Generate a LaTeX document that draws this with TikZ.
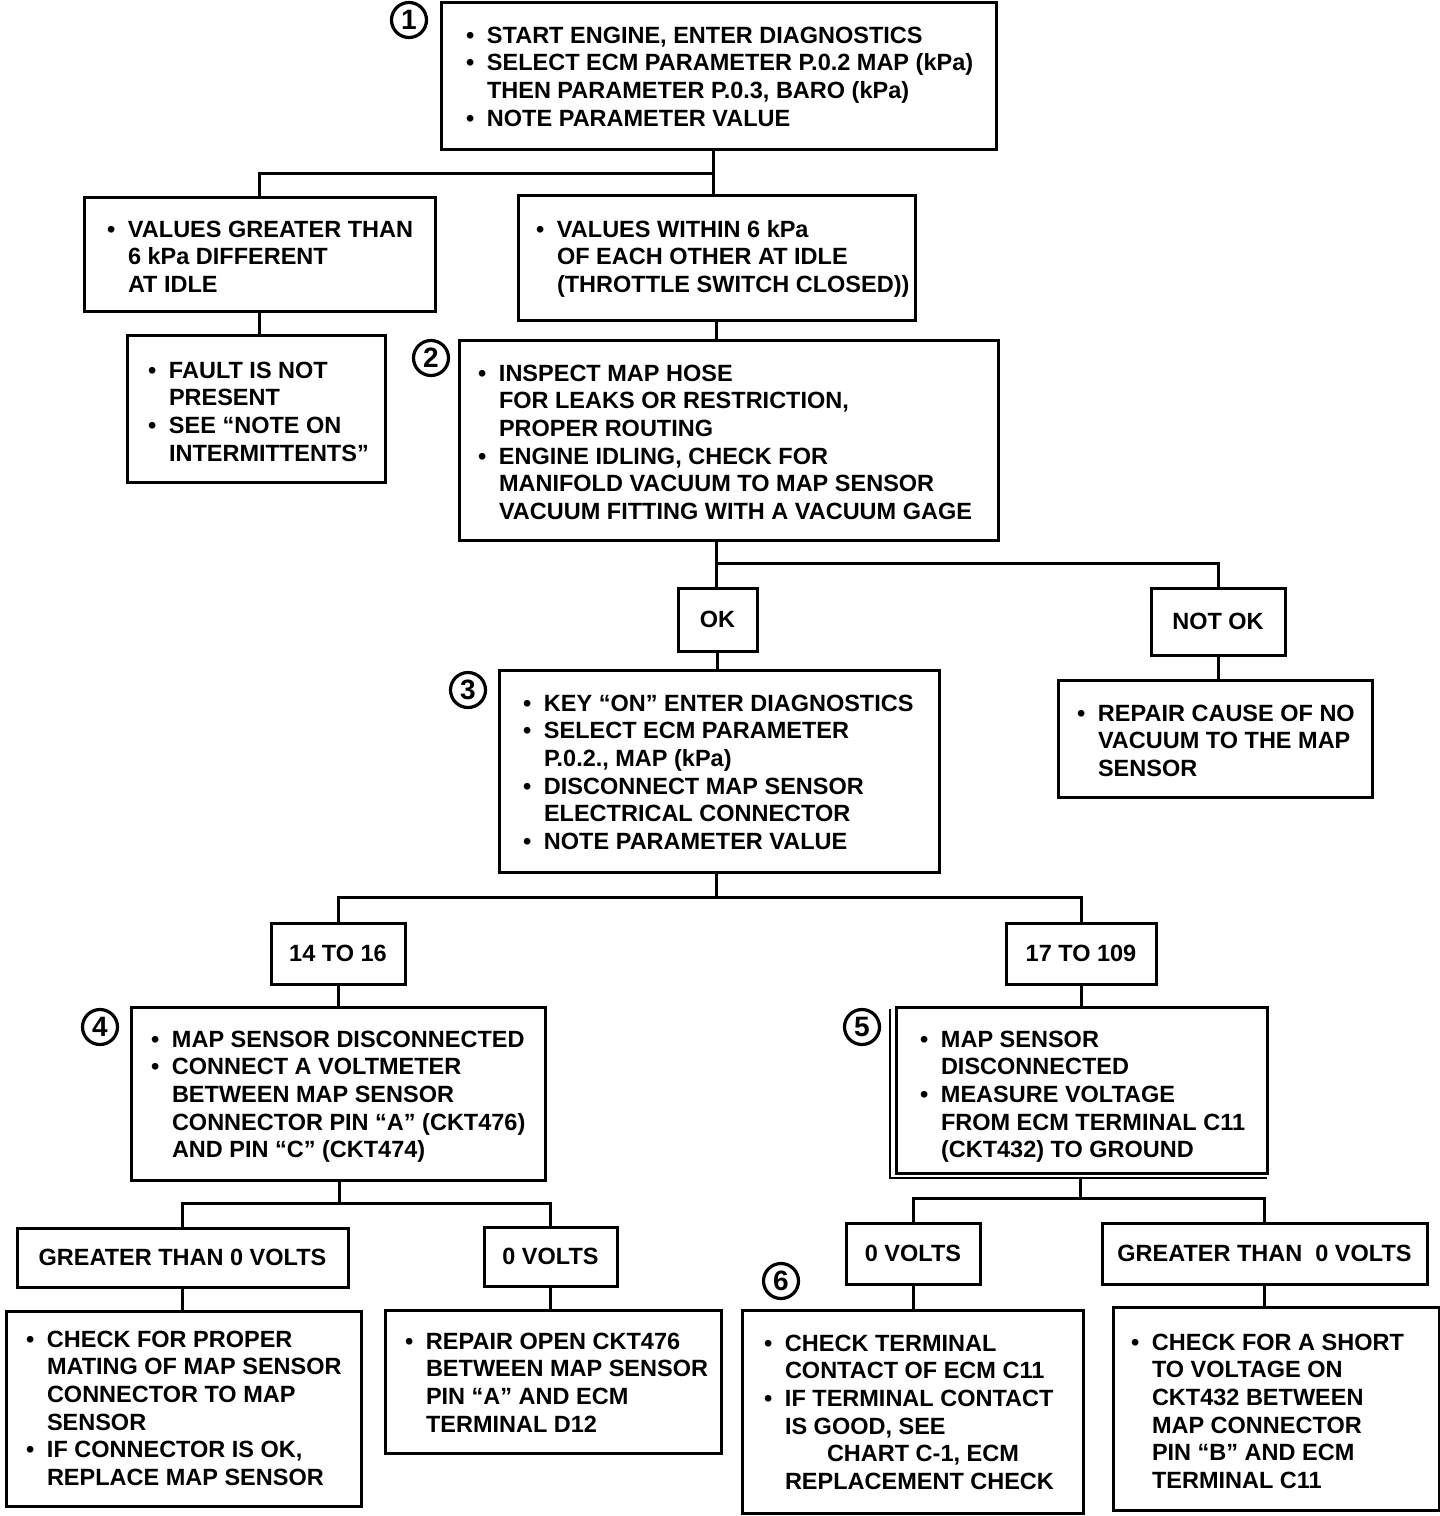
\documentclass[tikz,border=0pt]{standalone}
\usepackage{fontspec}
\setmainfont{Liberation Sans}
\newcommand\bul{\makebox[21pt][l]{•}}
\newcommand\ind{\hspace*{21pt}}
\newcommand\fl{\rule{0pt}{17.5pt}}
\tikzset{
  box/.style={draw, line width=3pt, inner sep=0pt, outer sep=0pt, anchor=north west,
    font=\bfseries\fontsize{23.5}{27.6}\selectfont},
  txt/.style={inner sep=0pt, outer sep=0pt, anchor=north west, align=left,
    font=\bfseries\fontsize{23.5}{27.6}\selectfont},
  num/.style={draw, circle, line width=3.2pt, minimum size=35pt, inner sep=0pt,
    font=\bfseries\fontsize{28}{28}\selectfont},
  conn/.style={line width=3pt, line cap=rect, line join=miter}
}
\begin{document}
\begin{tikzpicture}[x=1pt,y=-1pt]
\useasboundingbox (0,0) rectangle (1440,1516);

% ---------- boxes ----------
\node[box, minimum width=555pt, minimum height=147pt] (b1) at (441,2) {};
\node[box, minimum width=351pt, minimum height=114pt] (l1) at (84,197) {};
\node[box, minimum width=397pt, minimum height=125pt] (r1) at (518,195) {};
\node[box, minimum width=258pt, minimum height=147pt] (l2) at (127,335) {};
\node[box, minimum width=539pt, minimum height=200pt] (b2) at (459,340) {};
\node[box, minimum width=79pt, minimum height=63pt] (ok) at (678,588) {OK};
\node[box, minimum width=134pt, minimum height=67pt] (nok) at (1151,588) {NOT OK};
\node[box, minimum width=440pt, minimum height=202pt] (b3) at (499,670) {};
\node[box, minimum width=314pt, minimum height=117pt] (rep) at (1058,680) {};
\node[box, minimum width=134pt, minimum height=61pt] (v14) at (271,923) {14 TO 16};
\node[box, minimum width=150pt, minimum height=61pt] (v17) at (1006,923) {17 TO 109};
\node[box, minimum width=414pt, minimum height=173pt] (b4) at (131,1007) {};
\node[box, minimum width=371pt, minimum height=166pt] (b5) at (896,1007) {};
\node[box, minimum width=331pt, minimum height=59pt] (gtl) at (17,1228) {GREATER THAN 0 VOLTS};
\node[box, minimum width=133pt, minimum height=59pt] (zl) at (484,1227) {0 VOLTS};
\node[box, minimum width=134pt, minimum height=61pt] (zr) at (846,1223) {0 VOLTS};
\node[box, minimum width=325pt, minimum height=61pt] (gtr) at (1102,1223) {GREATER THAN\ \ 0 VOLTS};
\node[box, minimum width=355pt, minimum height=195pt] (chk) at (6,1311) {};
\node[box, minimum width=336pt, minimum height=143pt] (rop) at (385,1310) {};
\node[box, minimum width=341pt, minimum height=203pt] (b6) at (742,1310) {};
\node[box, minimum width=326pt, minimum height=203pt] (sh) at (1113,1307) {};

% shadow edge of box 5
\coordinate (s5a) at (890,1009);
\coordinate (s5b) at (890,1178);
\draw[line width=2.5pt] (s5a) -- (s5b) -- (b5.south east |- s5b);

% ---------- circled step numbers ----------
\node[num] (n1) at (409,20) {1};
\node[num] (n2) at (431,358) {2};
\node[num] (n3) at (468,690) {3};
\node[num] (n4) at (100,1027) {4};
\node[num] (n5) at (862,1027) {5};
\node[num] (n6) at (781,1281) {6};

% ---------- texts ----------
\node[txt] (t1) at (466,25.8) {\fl\bul START ENGINE, ENTER DIAGNOSTICS\\
 \bul SELECT ECM PARAMETER P.0.2 MAP (kPa)\\
 \ind THEN PARAMETER P.0.3, BARO (kPa)\\
 \bul NOTE PARAMETER VALUE};
\node[txt] (tl1) at (107,219.8) {\fl\bul VALUES GREATER THAN\\
 \ind 6 kPa DIFFERENT\\
 \ind AT IDLE};
\node[txt] (tr1) at (536,219.8) {\fl\bul VALUES WITHIN 6 kPa\\
 \ind OF EACH OTHER AT IDLE\\
 \ind (THROTTLE SWITCH CLOSED))};
\node[txt] (tl2) at (148,360.8) {\fl\bul FAULT IS NOT\\
 \ind PRESENT\\
 \bul SEE “NOTE ON\\
 \ind INTERMITTENTS”};
\node[txt] (t2) at (478,363.8) {\fl\bul INSPECT MAP HOSE\\
 \ind FOR LEAKS OR RESTRICTION,\\
 \ind PROPER ROUTING\\
 \bul ENGINE IDLING, CHECK FOR\\
 \ind MANIFOLD VACUUM TO MAP SENSOR\\
 \ind VACUUM FITTING WITH A VACUUM GAGE};
\node[txt] (t3) at (523,693.8) {\fl\bul KEY “ON” ENTER DIAGNOSTICS\\
 \bul SELECT ECM PARAMETER\\
 \ind P.0.2., MAP (kPa)\\
 \bul DISCONNECT MAP SENSOR\\
 \ind ELECTRICAL CONNECTOR\\
 \bul NOTE PARAMETER VALUE};
\node[txt] (trep) at (1077,703.8) {\fl\bul REPAIR CAUSE OF NO\\
 \ind VACUUM TO THE MAP\\
 \ind SENSOR};
\node[txt] (t4) at (151,1029.8) {\fl\bul MAP SENSOR DISCONNECTED\\
 \bul CONNECT A VOLTMETER\\
 \ind BETWEEN MAP SENSOR\\
 \ind CONNECTOR PIN “A” (CKT476)\\
 \ind AND PIN “C” (CKT474)};
\node[txt] (t5) at (920,1029.8) {\fl\bul MAP SENSOR\\
 \ind DISCONNECTED\\
 \bul MEASURE VOLTAGE\\
 \ind FROM ECM TERMINAL C11\\
 \ind (CKT432) TO GROUND};
\node[txt] (tchk) at (26,1329.8) {\fl\bul CHECK FOR PROPER\\
 \ind MATING OF MAP SENSOR\\
 \ind CONNECTOR TO MAP\\
 \ind SENSOR\\
 \bul IF CONNECTOR IS OK,\\
 \ind REPLACE MAP SENSOR};
\node[txt] (trop) at (405,1331.8) {\fl\bul REPAIR OPEN CKT476\\
 \ind BETWEEN MAP SENSOR\\
 \ind PIN “A” AND ECM\\
 \ind TERMINAL D12};
\node[txt] (t6) at (764,1333.8) {\fl\bul CHECK TERMINAL\\
 \ind CONTACT OF ECM C11\\
 \bul IF TERMINAL CONTACT\\
 \ind IS GOOD, SEE\\
 \ind\hspace*{42pt}CHART C-1, ECM\\
 \ind REPLACEMENT CHECK};
\node[txt] (tsh) at (1131,1332.8) {\fl\bul CHECK FOR A SHORT\\
 \ind TO VOLTAGE ON\\
 \ind CKT432 BETWEEN\\
 \ind MAP CONNECTOR\\
 \ind PIN “B” AND ECM\\
 \ind TERMINAL C11};

% ---------- connectors ----------
\coordinate (j1) at (713,173);
\draw[conn] (j1 |- b1.south) -- (j1);
\draw[conn] (l1.north) -- (l1.north |- j1) -- (j1) -- (j1 |- r1.north);
\draw[conn] (l1.south) -- (l1.south |- l2.north);
\draw[conn] (r1.south) -- (r1.south |- b2.north);

\coordinate (j2) at (716,563);
\draw[conn] (j2 |- b2.south) -- (j2) -- (j2 |- ok.north);
\draw[conn] (j2) -- (nok.north |- j2) -- (nok.north);
\draw[conn] (ok.south) -- (ok.south |- b3.north);
\draw[conn] (nok.south) -- (nok.south |- rep.north);

\coordinate (j3) at (716,897);
\draw[conn] (j3 |- b3.south) -- (j3);
\draw[conn] (v14.north) -- (v14.north |- j3) -- (v17.north |- j3) -- (v17.north);
\draw[conn] (v14.south) -- (v14.south |- b4.north);
\draw[conn] (v17.south) -- (v17.south |- b5.north);

\coordinate (j4) at (339,1203);
\draw[conn] (j4 |- b4.south) -- (j4);
\draw[conn] (gtl.north) -- (gtl.north |- j4) -- (zl.north |- j4) -- (zl.north);

\coordinate (j5) at (1080,1198);
\draw[conn] (j5 |- s5b) -- (j5);
\draw[conn] (zr.north) -- (zr.north |- j5) -- (gtr.north |- j5) -- (gtr.north);

\draw[conn] (gtl.south) -- (gtl.south |- chk.north);
\draw[conn] (zl.south) -- (zl.south |- rop.north);
\draw[conn] (zr.south) -- (zr.south |- b6.north);
\draw[conn] (gtr.south) -- (gtr.south |- sh.north);
\end{tikzpicture}
\end{document}
